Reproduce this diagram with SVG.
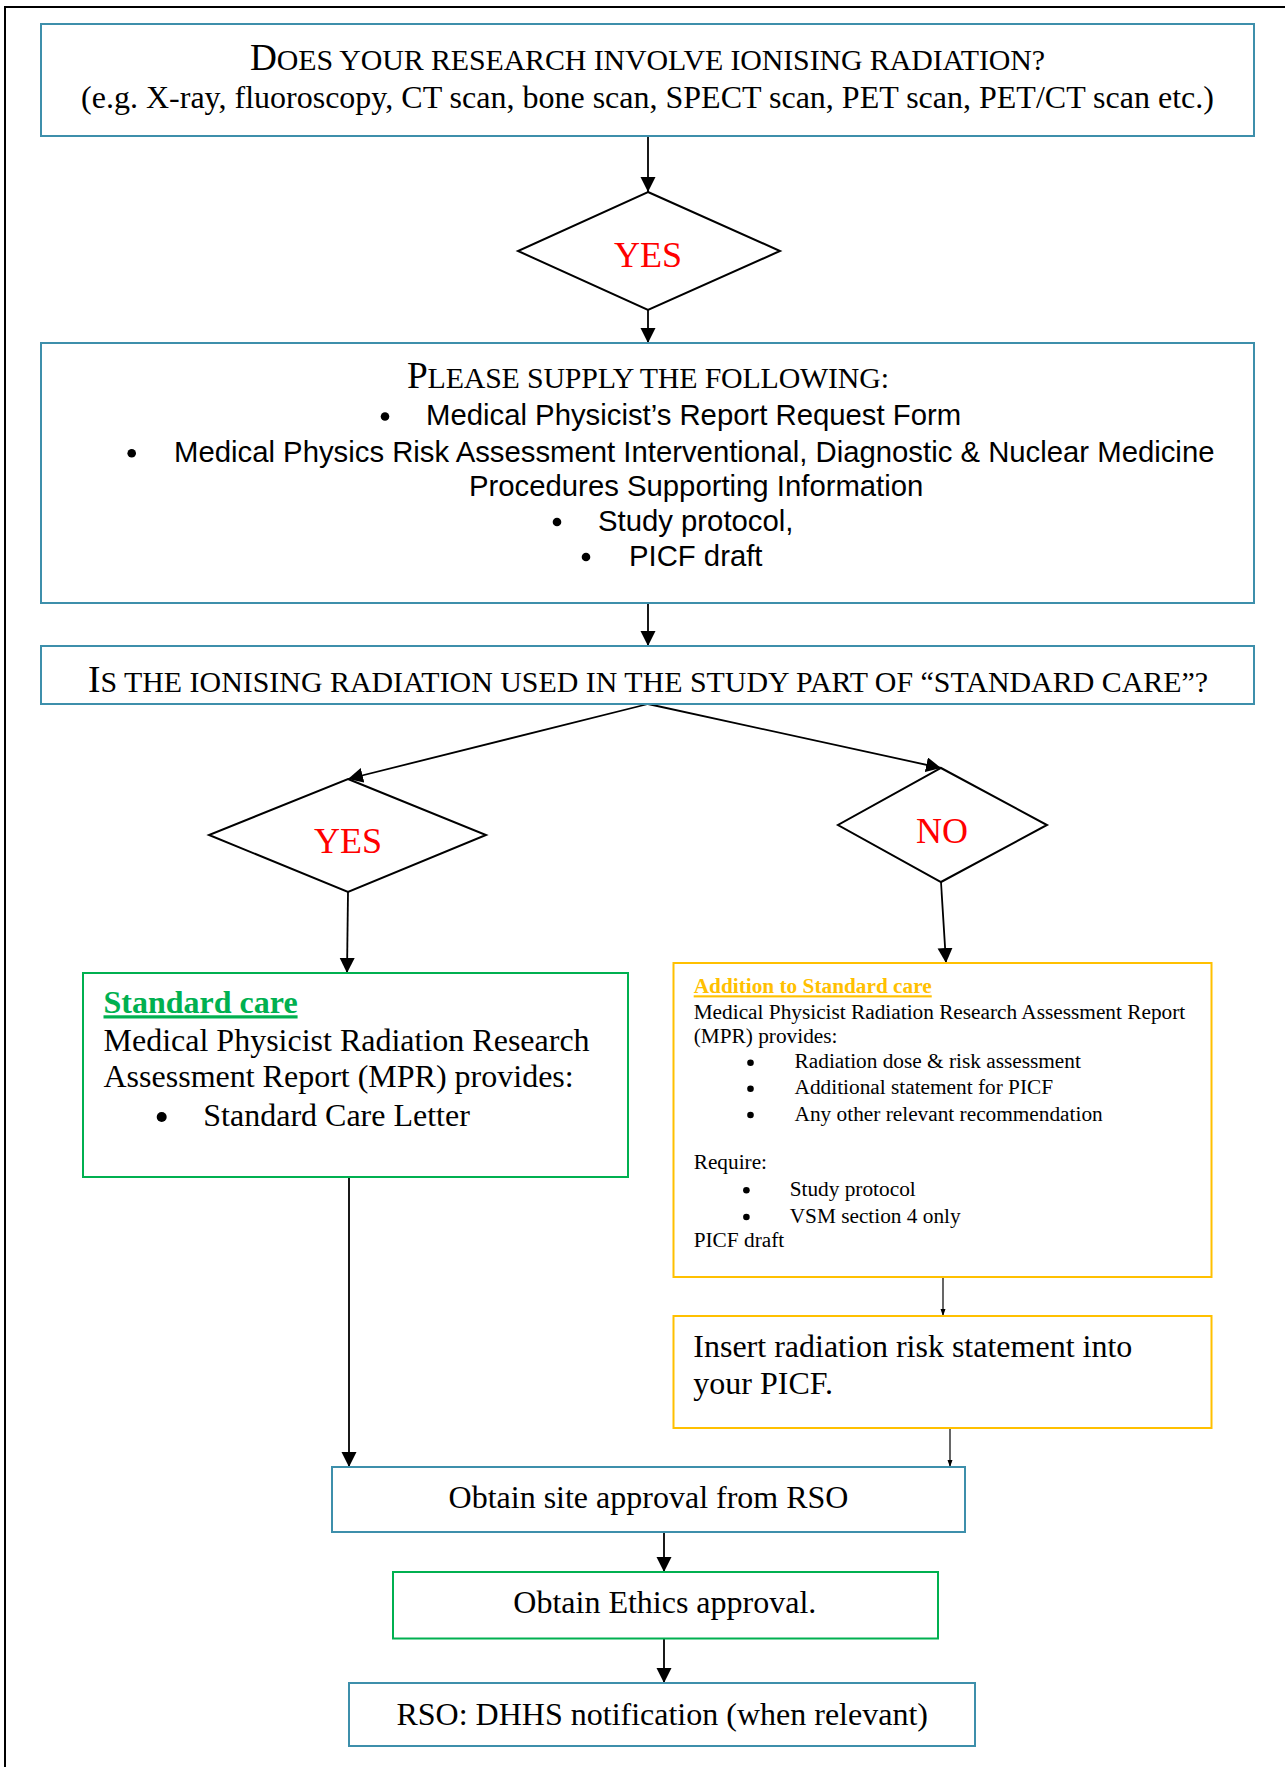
<svg xmlns="http://www.w3.org/2000/svg" width="1285" height="1767" viewBox="0 0 1285 1767">
<defs>
<style>
.teal{fill:#fff;stroke:#3d8fab;stroke-width:2}
.green{fill:#fff;stroke:#00b050;stroke-width:2}
.orange{fill:#fff;stroke:#ffc000;stroke-width:2}
.dia{fill:#fff;stroke:#000;stroke-width:2}
.serif{font-family:"Liberation Serif","Times New Roman",serif;fill:#000}
.sans{font-family:"Liberation Sans",Arial,sans-serif;fill:#000}
.red{fill:#ff0000}
.conn{stroke:#000;fill:none;stroke-width:1.8}
.thin{stroke:#000;fill:none;stroke-width:1.2}
</style>
<marker id="ah" markerUnits="userSpaceOnUse" markerWidth="16" markerHeight="16" refX="15" refY="7.5" orient="auto">
<path d="M0,0 L15,7.5 L0,15 z" fill="#000"/>
</marker>
<marker id="ahs" markerUnits="userSpaceOnUse" markerWidth="8" markerHeight="6" refX="7" refY="2.5" orient="auto">
<path d="M0,0 L7,2.5 L0,5 z" fill="#000"/>
</marker>
</defs>
<rect width="1285" height="1767" fill="#fff"/>
<path d="M5,1767 L5,7 L1285,7" fill="none" stroke="#000" stroke-width="2"/>

<g id="connectors">
<line class="conn" x1="648" y1="136" x2="648" y2="192" marker-end="url(#ah)"/>
<line class="conn" x1="648" y1="310" x2="648" y2="343" marker-end="url(#ah)"/>
<line class="conn" x1="648" y1="603" x2="648" y2="646" marker-end="url(#ah)"/>
<line class="conn" x1="648" y1="704" x2="348" y2="779" marker-end="url(#ah)"/>
<line class="conn" x1="648" y1="704" x2="941" y2="768" marker-end="url(#ah)"/>
<line class="conn" x1="348" y1="892" x2="347" y2="973" marker-end="url(#ah)"/>
<line class="conn" x1="941" y1="882" x2="946" y2="963" marker-end="url(#ah)"/>
<line class="conn" x1="349" y1="1177" x2="349" y2="1467" marker-end="url(#ah)"/>
<line class="thin" x1="943" y1="1277" x2="943" y2="1316" marker-end="url(#ahs)"/>
<line class="thin" x1="950" y1="1428" x2="950" y2="1467" marker-end="url(#ahs)"/>
<line class="conn" x1="664" y1="1532" x2="664" y2="1572" marker-end="url(#ah)"/>
<line class="conn" x1="664" y1="1639" x2="664" y2="1683" marker-end="url(#ah)"/>
</g>

<g id="q1">
<rect class="teal" x="41" y="24" width="1213" height="112"/>
<text class="serif" x="647.5" y="70" text-anchor="middle" textLength="795"><tspan font-size="37.3">D</tspan><tspan font-size="29.9">OES YOUR RESEARCH INVOLVE IONISING RADIATION?</tspan></text>
<text class="serif" x="647.5" y="108" font-size="32" text-anchor="middle">(e.g. X-ray, fluoroscopy, CT scan, bone scan, SPECT scan, PET scan, PET/CT scan etc.)</text>
</g>

<g id="yes1">
<polygon class="dia" points="648,192 780,251 648,310 518,251"/>
<text class="serif red" x="648" y="267" font-size="36" text-anchor="middle">YES</text>
</g>

<g id="supply">
<rect class="teal" x="41" y="343" width="1213" height="260"/>
<text class="serif" x="648" y="388" text-anchor="middle" textLength="482"><tspan font-size="37.3">P</tspan><tspan font-size="29.9">LEASE SUPPLY THE FOLLOWING:</tspan></text>
<circle cx="385" cy="416.5" r="4.3"/>
<text class="sans" x="426" y="425" font-size="29.3">Medical Physicist’s Report Request Form</text>
<circle cx="131.7" cy="453.3" r="4.3"/>
<text class="sans" x="174" y="461.7" font-size="29.3">Medical Physics Risk Assessment Interventional, Diagnostic &amp; Nuclear Medicine</text>
<text class="sans" x="469" y="495.5" font-size="29.3">Procedures Supporting Information</text>
<circle cx="557" cy="522" r="4.3"/>
<text class="sans" x="598" y="530.5" font-size="29.3">Study protocol,</text>
<circle cx="586" cy="557" r="4.3"/>
<text class="sans" x="629" y="565.5" font-size="29.3">PICF draft</text>
</g>

<g id="q2">
<rect class="teal" x="41" y="646" width="1213" height="58"/>
<text class="serif" x="648" y="692" text-anchor="middle" textLength="1120"><tspan font-size="37.3">I</tspan><tspan font-size="29.9">S THE IONISING RADIATION USED IN THE STUDY PART OF “STANDARD CARE”?</tspan></text>
</g>

<g id="yes2">
<polygon class="dia" points="348,779 486,835 348,892 209,835"/>
<text class="serif red" x="348" y="853" font-size="36" text-anchor="middle">YES</text>
</g>

<g id="no">
<polygon class="dia" points="941,768 1047,825 941,882 838,825"/>
<text class="serif red" x="942" y="843" font-size="36" text-anchor="middle">NO</text>
</g>

<g id="standard">
<rect class="green" x="83" y="973" width="545" height="204"/>
<text class="serif" x="103.5" y="1013.3" font-size="32" font-weight="bold" fill="#00b050" style="fill:#00b050" text-decoration="underline">Standard care</text>
<text class="serif" x="103.5" y="1050.7" font-size="32">Medical Physicist Radiation Research</text>
<text class="serif" x="103.5" y="1086.7" font-size="32">Assessment Report (MPR) provides:</text>
<circle cx="161.7" cy="1117" r="5"/>
<text class="serif" x="203.3" y="1126" font-size="32">Standard Care Letter</text>
</g>

<g id="addition">
<rect class="orange" x="673.5" y="963" width="538" height="314"/>
<text class="serif" x="693.7" y="993.3" font-size="21.3" font-weight="bold" style="fill:#ffc000" text-decoration="underline">Addition to Standard care</text>
<text class="serif" x="693.7" y="1019" font-size="21.3">Medical Physicist Radiation Research Assessment Report</text>
<text class="serif" x="693.7" y="1043.3" font-size="21.3">(MPR) provides:</text>
<circle cx="750.5" cy="1062.7" r="3.3"/>
<text class="serif" x="794.6" y="1068.4" font-size="21.3">Radiation dose &amp; risk assessment</text>
<circle cx="750.5" cy="1088.7" r="3.3"/>
<text class="serif" x="794.6" y="1094.4" font-size="21.3">Additional statement for PICF</text>
<circle cx="750.5" cy="1115" r="3.3"/>
<text class="serif" x="794.6" y="1120.7" font-size="21.3">Any other relevant recommendation</text>
<text class="serif" x="693.7" y="1169" font-size="21.3">Require:</text>
<circle cx="746.4" cy="1190.3" r="3.3"/>
<text class="serif" x="789.7" y="1196" font-size="21.3">Study protocol</text>
<circle cx="746.4" cy="1217" r="3.3"/>
<text class="serif" x="789.7" y="1222.7" font-size="21.3">VSM section 4 only</text>
<text class="serif" x="693.7" y="1246.5" font-size="21.3">PICF draft</text>
</g>

<g id="insert">
<rect class="orange" x="673.5" y="1316" width="538" height="112"/>
<text class="serif" x="693.3" y="1356.7" font-size="32">Insert radiation risk statement into</text>
<text class="serif" x="693.3" y="1394" font-size="32">your PICF.</text>
</g>

<g id="site">
<rect class="teal" x="332" y="1467" width="633" height="65"/>
<text class="serif" x="648.5" y="1508" font-size="32" text-anchor="middle">Obtain site approval from RSO</text>
</g>

<g id="ethics">
<rect class="green" x="393" y="1572" width="545" height="66.5"/>
<text class="serif" x="664.8" y="1613" font-size="32" text-anchor="middle">Obtain Ethics approval.</text>
</g>

<g id="dhhs">
<rect class="teal" x="349" y="1683" width="626" height="63"/>
<text class="serif" x="662.2" y="1725" font-size="32" text-anchor="middle">RSO: DHHS notification (when relevant)</text>
</g>
</svg>
